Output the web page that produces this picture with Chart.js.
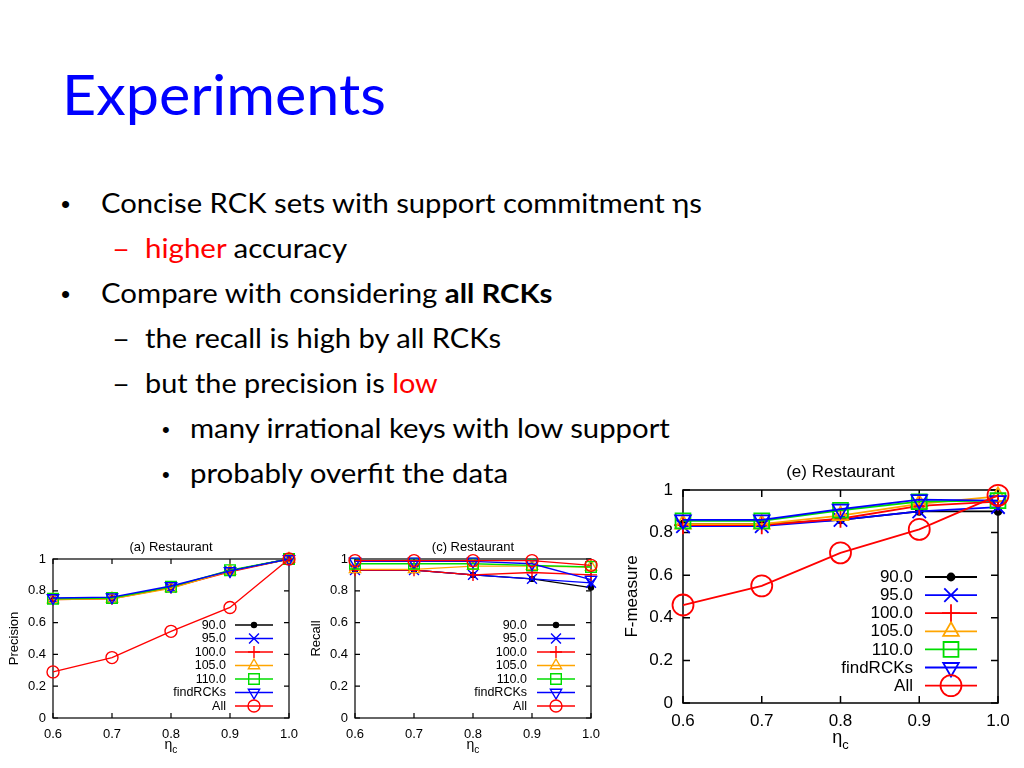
<!DOCTYPE html>
<html><head><meta charset="utf-8">
<script src="https://cdn.jsdelivr.net/npm/chart.js@4.4.1/dist/chart.umd.min.js"></script>
<style>
html,body{margin:0;padding:0;}
body{width:1024px;height:768px;background:#fff;position:relative;overflow:hidden;font-family:Lato,"Open Sans",sans-serif;color:#000;}
.t{position:absolute;white-space:nowrap;transform-origin:0 0;line-height:1.2;}
.red{color:#ff0000;}
.c{position:absolute;}
</style></head>
<body>
<div class="t" id="ttl" style="font-size:56px;color:#0000ff;">Experiments</div>
<div class="t" id="b1" style="font-size:26px;font-family:'Liberation Sans',Arial,sans-serif;">•</div>
<div class="t" id="l1" style="font-size:26px;">Concise RCK sets with support commitment ηs</div>
<div class="t red" id="d2" style="font-size:26px;">–</div>
<div class="t" id="l2" style="font-size:26px;"><span class="red">higher</span> accuracy</div>
<div class="t" id="b3" style="font-size:26px;font-family:'Liberation Sans',Arial,sans-serif;">•</div>
<div class="t" id="l3" style="font-size:26px;">Compare with considering <b>all RCKs</b></div>
<div class="t" id="d4" style="font-size:26px;">–</div>
<div class="t" id="l4" style="font-size:26px;">the recall is high by all RCKs</div>
<div class="t" id="d5" style="font-size:26px;">–</div>
<div class="t" id="l5" style="font-size:26px;">but the precision is <span class="red">low</span></div>
<div class="t" id="b6" style="font-size:22px;font-family:'Liberation Sans',Arial,sans-serif;">•</div>
<div class="t" id="l6" style="font-size:26px;">many irrational keys with low support</div>
<div class="t" id="b7" style="font-size:22px;font-family:'Liberation Sans',Arial,sans-serif;">•</div>
<div class="t" id="l7" style="font-size:26px;">probably overfit the data</div>

<div class="c" style="left:0px;top:535px;width:310px;height:230px;"><canvas id="ca" width="310" height="230"></canvas></div>
<div class="c" style="left:300px;top:535px;width:310px;height:230px;"><canvas id="cc" width="310" height="230"></canvas></div>
<div class="c" style="left:620px;top:455px;width:404px;height:310px;"><canvas id="ce" width="404" height="310"></canvas></div>

<script>
// ---------------- data ----------------
const etaLabels = ['0.6', '0.7', '0.8', '0.9', '1.0'];
const seriesNames = ['90.0', '95.0', '100.0', '105.0', '110.0', 'findRCKs', 'All'];

// (a) Precision
const prec90   = [0.75, 0.755, 0.825, 0.925, 1.0];
const prec95   = [0.75, 0.755, 0.82, 0.925, 1.0];
const prec100  = [0.745, 0.75, 0.82, 0.92, 1.0];
const prec105  = [0.745, 0.75, 0.815, 0.925, 1.0];
const prec110  = [0.75, 0.755, 0.825, 0.93, 1.0];
const precFind = [0.755, 0.76, 0.83, 0.925, 1.0];
const precAll  = [0.29, 0.38, 0.545, 0.695, 1.0];

// (c) Recall
const rec90   = [0.93, 0.93, 0.90, 0.875, 0.82];
const rec95   = [0.93, 0.93, 0.90, 0.875, 0.85];
const rec100  = [0.93, 0.93, 0.90, 0.915, 0.90];
const rec105  = [0.935, 0.935, 0.955, 0.955, 0.95];
const rec110  = [0.97, 0.97, 0.97, 0.96, 0.95];
const recFind = [0.985, 0.985, 0.985, 0.97, 0.87];
const recAll  = [0.99, 0.99, 0.99, 0.99, 0.96];

// (e) F-measure
const f90   = [0.84, 0.84, 0.86, 0.90, 0.90];
const f95   = [0.83, 0.83, 0.86, 0.90, 0.92];
const f100  = [0.835, 0.835, 0.865, 0.925, 0.945];
const f105  = [0.84, 0.84, 0.88, 0.935, 0.97];
const f110  = [0.855, 0.855, 0.905, 0.945, 0.95];
const fFind = [0.86, 0.86, 0.91, 0.955, 0.95];
const fAll  = [0.46, 0.55, 0.705, 0.815, 0.975];

// ---------------- styles ----------------
const styles = [
  {color:'#000000', pointStyle:'circle',   filled:true, r:[2.5, 3.5]},
  {color:'#0000ff', pointStyle:'crossRot', r:[7, 9.5]},
  {color:'#ff0000', pointStyle:'cross',    r:[6, 9]},
  {color:'#ffa500', pointStyle:'triangle', r:[6.5, 9]},
  {color:'#00dd00', pointStyle:'rect',     r:[7.5, 10.5]},
  {color:'#0000ff', pointStyle:'triangle', rotation:180, r:[6.5, 9]},
  {color:'#ff0000', pointStyle:'circle',   r:[6, 10.5]}
];
const CF = "'Liberation Sans', Arial, sans-serif";

function drawMarker(ctx, st, radius, lw, x, y) {
  ctx.save();
  ctx.strokeStyle = st.color;
  ctx.fillStyle = st.filled ? st.color : 'rgba(0,0,0,0)';
  ctx.lineWidth = lw;
  if (Chart.helpers && Chart.helpers.drawPoint) {
    Chart.helpers.drawPoint(ctx, {pointStyle: st.pointStyle, rotation: st.rotation || 0, radius: radius, borderWidth: lw}, x, y);
  }
  ctx.restore();
}

const framePlugin = {
  id: 'frame',
  beforeDatasetsDraw(chart, args, o) {
    const {ctx, chartArea: a, scales: {x, y}} = chart;
    ctx.save();
    ctx.strokeStyle = '#000';
    ctx.lineWidth = o.lw;
    ctx.strokeRect(a.left, a.top, a.right - a.left, a.bottom - a.top);
    ctx.beginPath();
    y.ticks.forEach(t => {
      const py = y.getPixelForValue(t.value);
      ctx.moveTo(a.left, py); ctx.lineTo(a.left + o.tick, py);
      ctx.moveTo(a.right, py); ctx.lineTo(a.right - o.tick, py);
    });
    chart.data.labels.forEach((l, i) => {
      const px = x.getPixelForValue(i);
      ctx.moveTo(px, a.bottom); ctx.lineTo(px, a.bottom - o.tick);
      ctx.moveTo(px, a.top); ctx.lineTo(px, a.top + o.tick);
    });
    ctx.stroke();
    ctx.restore();
  }
};

const innerLegend = {
  id: 'innerLegend',
  afterDatasetsDraw(chart, args, o) {
    const {ctx, chartArea: a} = chart;
    ctx.save();
    ctx.font = o.size + 'px ' + CF;
    ctx.textAlign = 'right';
    ctx.textBaseline = 'middle';
    chart.data.datasets.forEach((ds, i) => {
      const yy = a.bottom - o.first + i * o.gap;
      ctx.fillStyle = '#000';
      ctx.fillText(ds.label, a.right - o.textR, yy + 0.5);
      ctx.strokeStyle = ds.borderColor;
      ctx.lineWidth = ds.borderWidth;
      ctx.beginPath();
      ctx.moveTo(a.right - o.l0, yy); ctx.lineTo(a.right - o.l1, yy);
      ctx.stroke();
      drawMarker(ctx, styles[i], ds.pointRadius, ds.pointBorderWidth, a.right - (o.l0 + o.l1) / 2, yy);
    });
    ctx.restore();
  }
};

const etaTitle = {
  id: 'etaTitle',
  afterDraw(chart, args, o) {
    const {ctx, chartArea: a} = chart;
    ctx.save();
    ctx.fillStyle = '#000';
    ctx.textBaseline = 'alphabetic';
    ctx.textAlign = 'left';
    ctx.font = o.size + 'px ' + CF;
    const w1 = ctx.measureText('η').width;
    ctx.font = (o.size * 0.72) + 'px ' + CF;
    const w2 = ctx.measureText('c').width;
    const x0 = (a.left + a.right) / 2 - (w1 + w2) / 2;
    ctx.font = o.size + 'px ' + CF;
    ctx.fillText('η', x0, a.bottom + o.base);
    ctx.font = (o.size * 0.72) + 'px ' + CF;
    ctx.fillText('c', x0 + w1, a.bottom + o.base + o.sub);
    ctx.restore();
  }
};

function fmtTick(v) { return String(Number(Number(v).toFixed(1))); }

function makeChart(id, c) {
  const datasets = c.series.map((vals, i) => {
    const s = styles[i];
    return {
      label: seriesNames[i], data: vals,
      borderColor: s.color, backgroundColor: s.color, borderWidth: c.lw,
      pointStyle: s.pointStyle, pointRotation: s.rotation || 0,
      pointRadius: s.r[c.k], pointHoverRadius: s.r[c.k], pointBorderWidth: c.lw,
      pointBackgroundColor: s.filled ? s.color : 'rgba(0,0,0,0)', pointBorderColor: s.color,
      tension: 0, clip: false, order: seriesNames.length - i
    };
  });
  return new Chart(document.getElementById(id), {
    type: 'line',
    data: {labels: etaLabels, datasets},
    plugins: [framePlugin, innerLegend, etaTitle],
    options: {
      responsive: false, animation: false, events: [],
      layout: {padding: {left: 0, right: c.padR, top: 0, bottom: 0}},
      scales: {
        x: {
          type: 'category', offset: false,
          grid: {display: false, drawTicks: false}, border: {display: false},
          ticks: {color: '#000', font: {family: CF, size: c.tick}, padding: c.xpad, maxRotation: 0, autoSkip: false},
          afterFit(s) { s.height = c.xh; }
        },
        y: {
          min: 0, max: 1,
          grid: {display: false, drawTicks: false}, border: {display: false},
          ticks: {stepSize: 0.2, color: '#000', font: {family: CF, size: c.tick}, padding: c.ypad, callback: fmtTick},
          title: {display: true, text: c.ytitle, color: '#000', font: {family: CF, size: c.tick}, padding: {top: c.ytp, bottom: 0}},
          afterFit(s) { s.width = c.yw; }
        }
      },
      plugins: {
        legend: {display: false}, tooltip: {enabled: false},
        title: {display: true, fullSize: false, text: c.title, color: '#000', font: {family: CF, size: c.tsize, weight: 'normal'}, padding: {top: c.tpt, bottom: c.tpb}},
        frame: {lw: c.k ? 1.5 : 1.2, tick: c.k ? 7 : 5},
        innerLegend: c.leg,
        etaTitle: c.eta
      }
    }
  });
}

makeChart('ca', {
  series: [prec90, prec95, prec100, prec105, prec110, precFind, precAll],
  k: 0, lw: 1.4, title: '(a) Restaurant', ytitle: 'Precision',
  tsize: 13, tick: 13, tpt: 4.7, tpb: 3.7, padR: 21, yw: 53, ytp: 7, ypad: 7, xpad: 9, xh: 47,
  leg: {size: 12.5, first: 93, gap: 13.5, textR: 63, l0: 54, l1: 16},
  eta: {size: 14, base: 31, sub: 4}
});
makeChart('cc', {
  series: [rec90, rec95, rec100, rec105, rec110, recFind, recAll],
  k: 0, lw: 1.4, title: '(c) Restaurant', ytitle: 'Recall',
  tsize: 13, tick: 13, tpt: 4.7, tpb: 3.7, padR: 19, yw: 55, ytp: 9, ypad: 7, xpad: 9, xh: 47,
  leg: {size: 12.5, first: 93, gap: 13.5, textR: 64, l0: 54, l1: 16},
  eta: {size: 14, base: 31, sub: 4}
});
makeChart('ce', {
  series: [f90, f95, f100, f105, f110, fFind, fAll],
  k: 1, lw: 1.8, title: '(e) Restaurant', ytitle: 'F-measure',
  tsize: 17, tick: 17, tpt: 7.3, tpb: 7.3, padR: 26, yw: 63, ytp: 2, ypad: 10, xpad: 8, xh: 62,
  leg: {size: 17, first: 126, gap: 18.1, textR: 85, l0: 73, l1: 21},
  eta: {size: 18, base: 40, sub: 6}
});

// ---------------- slide text placement ----------------
function place(id, x, baseline, w) {
  const el = document.getElementById(id);
  el.style.transform = 'none';
  el.style.left = x + 'px';
  el.style.top = '0px';
  let m = el.querySelector('.bm');
  if (!m) {
    m = document.createElement('span');
    m.className = 'bm';
    m.style.display = 'inline-block'; m.style.width = '0'; m.style.height = '0'; m.style.verticalAlign = 'baseline';
    el.appendChild(m);
  }
  el.style.top = (baseline - m.offsetTop) + 'px';
  if (w) {
    const cw = el.offsetWidth;
    el.style.transform = 'scaleX(' + (w / cw) + ')';
  }
}
function layoutText() {
  place('ttl', 62, 115, 324);
  place('b1', 61, 213);
  place('l1', 101, 213, 601);
  place('d2', 112, 258, 18);
  place('l2', 145, 258, 202);
  place('b3', 61, 303);
  place('l3', 101, 303, 452);
  place('d4', 112, 348, 18);
  place('l4', 145, 348, 356);
  place('d5', 112, 393, 18);
  place('l5', 145, 393, 293);
  place('b6', 162, 437);
  place('l6', 190, 438, 480);
  place('b7', 162, 482);
  place('l7', 190, 483, 318);
}
if (document.fonts && document.fonts.ready) { layoutText(); document.fonts.ready.then(layoutText); } else { layoutText(); }
</script>
</body></html>
